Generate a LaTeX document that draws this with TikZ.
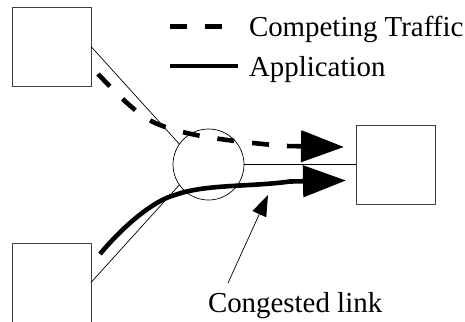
\documentclass[tikz,border=0pt]{standalone}
\usepackage{fontspec}
\setmainfont{Liberation Serif}
\usetikzlibrary{arrows.meta}
\tikzset{
  boxnode/.style={draw=black!75,line width=0.9pt,rectangle,minimum width=79pt,minimum height=79pt,inner sep=0pt,outer sep=0pt},
  hubnode/.style={draw,line width=0.7pt,circle,minimum size=71pt,inner sep=0pt,outer sep=0pt},
  linkline/.style={draw,line width=0.7pt},
  thickflow/.style={line width=4.6pt},
  dashflow/.style={thickflow,dash pattern=on 17pt off 18pt},
  bigtip/.style={-{Triangle[length=43pt,width=31pt]}},
  label/.style={inner sep=0pt,outer sep=0pt,font=\fontsize{28.9pt}{32pt}\selectfont,anchor=base west}
}
\begin{document}
\begin{tikzpicture}[x=1pt,y=-1pt]
\useasboundingbox (0,0) rectangle (465,321);
\node[boxnode] (top) at (51.5,46.5) {};
\node[boxnode] (bottom) at (51.5,282.5) {};
\node[boxnode] (dest) at (395.5,164.5) {};
\node[hubnode] (hub) at (208.5,164.5) {};
\draw[linkline] (top.east) -- (hub.145);
\draw[linkline] (bottom.east) -- (hub.215);
\draw[linkline] (hub.east) -- (dest.west);
% flows
\coordinate (dstart) at (98,74);
\coordinate (dend) at (344,147);
\coordinate (sstart) at (100,254);
\coordinate (send) at (346,180.5);
\draw[dashflow,bigtip] (dstart) .. controls (118,95) and (140,118) .. (160,125)
  .. controls (185,135) and (225,141) .. (285,146) -- (dend);
\draw[thickflow,bigtip] (sstart) .. controls (125,224) and (155,200) .. (175,195)
  .. controls (205,184) and (250,187) .. (290,181.5) -- (send);
% congested arrow
\node[label] (congested) at (208,312) {Congested link};
\coordinate (ctip) at (268,195);
\coordinate (cstart) at (228,283);
\draw[line width=0.7pt,-{Triangle[length=21pt,width=15pt]}] (cstart) -- (ctip);
% legend
\coordinate (l1a) at (170,26.5);
\coordinate (l1b) at (224,26.5);
\coordinate (l2a) at (170,66);
\coordinate (l2b) at (238,66);
\draw[dashflow] (l1a) -- (l1b);
\draw[thickflow] (l2a) -- (l2b);
\node[label] (comp) at (249,37) {Competing Traffic};
\node[label] (app) at (249,76) {Application};
\end{tikzpicture}
\end{document}
